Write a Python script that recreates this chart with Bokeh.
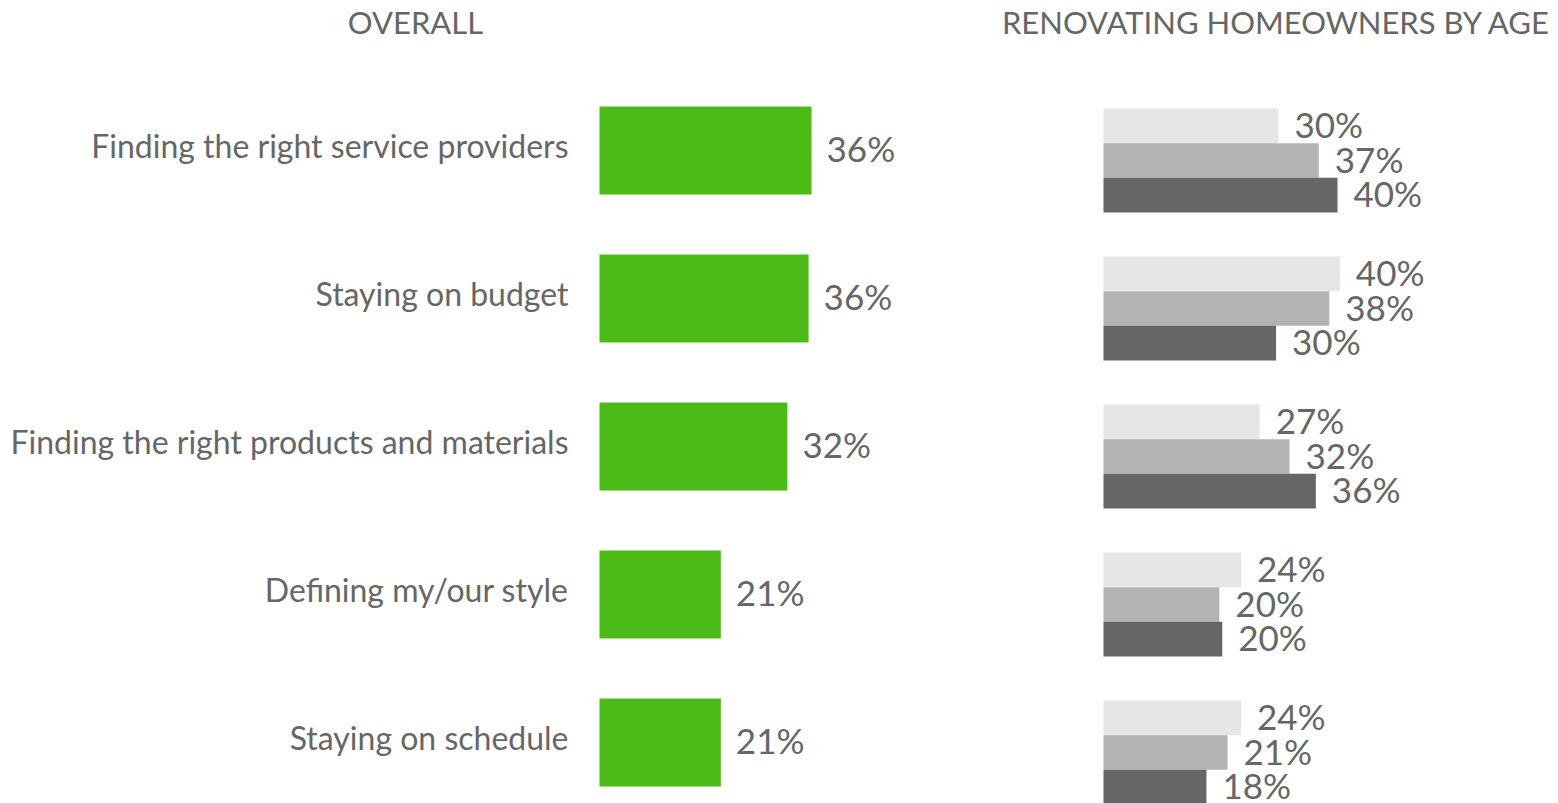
from bokeh.plotting import figure
from bokeh.models import Range1d, ColumnDataSource, Label
from bokeh.layouts import row
from bokeh.core.properties import value
from bokeh.embed import file_html
from bokeh.resources import INLINE

# ---------------- data ----------------
categories = [
    "Finding the right service providers",
    "Staying on budget",
    "Finding the right products and materials",
    "Defining my/our style",
    "Staying on schedule",
]
overall = [36.0, 35.5, 31.9, 20.6, 20.6]
overall_labels = ["36%", "36%", "32%", "21%", "21%"]

age_group_1 = [29.9, 40.4, 26.7, 23.5, 23.5]
age_group_1_labels = ["30%", "40%", "27%", "24%", "24%"]
age_group_2 = [36.8, 38.6, 31.8, 19.8, 21.2]
age_group_2_labels = ["37%", "38%", "32%", "20%", "21%"]
age_group_3 = [40.0, 29.5, 36.3, 20.3, 17.6]
age_group_3_labels = ["40%", "30%", "36%", "20%", "18%"]

title_left = "OVERALL"
title_right = "RENOVATING HOMEOWNERS BY AGE"

# ---------------- style ----------------
FONT = "Lato"
TXT = "#666666"
GREEN = "#4dbb17"
GREYS = ["#e6e6e6", "#b3b3b3", "#666666"]

H = 803
W_LEFT = 950
W_RIGHT = 608
ROW_PX = 148.0


def base_fig(width, x_range, y_range):
    p = figure(width=width, height=H, x_range=x_range, y_range=y_range,
               output_backend="svg", toolbar_location=None,
               x_axis_location=None, y_axis_location=None,
               min_border=0, min_border_left=0, min_border_right=0,
               min_border_top=0, min_border_bottom=0)
    p.outline_line_color = None
    p.xgrid.visible = False
    p.ygrid.visible = False
    p.background_fill_color = "white"
    p.border_fill_color = "white"
    return p


# ---------------- left panel ----------------
sx_l = 5.89          # px per percent
x0_l = 599           # px of zero
xr_l = Range1d(-x0_l / sx_l, (W_LEFT - x0_l) / sx_l)
c0_l = 150           # px from top of first row centre
yr_l = Range1d((H - c0_l) / ROW_PX, -c0_l / ROW_PX)

p1 = base_fig(W_LEFT, xr_l, yr_l)
idx = list(range(len(categories)))
src_l = ColumnDataSource(dict(y=idx, v=overall, lab=overall_labels,
                              cat=categories, zero=[0] * len(idx)))
p1.hbar(y="y", left=0, right="v", height=88 / ROW_PX, source=src_l,
        fill_color=GREEN, line_color=None)
p1.text(x="v", y="y", text="lab", source=src_l, x_offset=15, y_offset=-3,
        text_font=value(FONT), text_font_size="35px", text_color=TXT,
        text_align="left", text_baseline="middle")
p1.text(x="zero", y="y", text="cat", source=src_l, x_offset=-31, y_offset=-5,
        text_font=value(FONT), text_font_size="32px", text_color=TXT,
        text_align="right", text_baseline="middle")
p1.add_layout(Label(x=415, y=H - 21, x_units="screen", y_units="screen",
                    text=title_left, text_font=FONT, text_font_size="31px",
                    text_color=TXT, text_align="center", text_baseline="middle"))

# ---------------- right panel ----------------
sx_r = 5.85
x0_r = 1103 - W_LEFT
xr_r = Range1d(-x0_r / sx_r, (W_RIGHT - x0_r) / sx_r)
c0_r = 160
yr_r = Range1d((H - c0_r) / ROW_PX, -c0_r / ROW_PX)

p2 = base_fig(W_RIGHT, xr_r, yr_r)
bh = 34.7 / ROW_PX
series = [(age_group_1, age_group_1_labels, -1), (age_group_2, age_group_2_labels, 0),
          (age_group_3, age_group_3_labels, 1)]
for (vals, labs, off), col in zip(series, GREYS):
    src = ColumnDataSource(dict(y=[i + off * bh for i in idx], v=vals, lab=labs))
    p2.hbar(y="y", left=0, right="v", height=bh, source=src,
            fill_color=col, line_color=None)
    p2.text(x="v", y="y", text="lab", source=src, x_offset=16, y_offset=-2,
            text_font=value(FONT), text_font_size="35px", text_color=TXT,
            text_align="left", text_baseline="middle")
p2.add_layout(Label(x=1276 - W_LEFT, y=H - 21, x_units="screen", y_units="screen",
                    text=title_right, text_font=FONT, text_font_size="31px",
                    text_color=TXT, text_align="center", text_baseline="middle"))

layout = row(p1, p2, spacing=0)
open("out.html", "w").write(file_html(layout, INLINE))
